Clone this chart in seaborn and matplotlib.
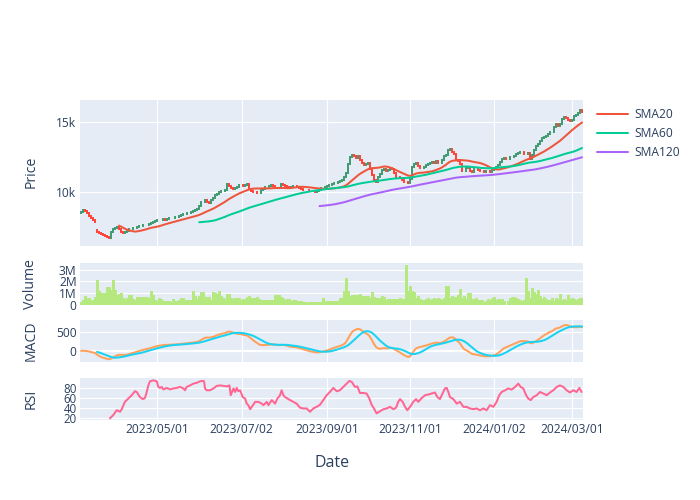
import numpy as np
import pandas as pd
import matplotlib
matplotlib.use("Agg")
import matplotlib.pyplot as plt
import seaborn as sns

# ---------------- data ----------------
close = [
    8550, 8690, 8600, 8450, 8250, 8100, 7980, 7850, 7150, 7050,
    6980, 6910, 6850, 6780, 6720, 7120, 7330, 7400, 7460, 7300,
    7140, 7070, 7100, 7160, 7300, 7350, 7390, 7430, 7470, 7540,
    7580, 7600, 7610, 7640, 7720, 7790, 7860, 7940, 7990, 7960,
    8000, 8030, 8010, 8040, 8090, 8120, 8150, 8190, 8220, 8260,
    8330, 8410, 8440, 8460, 8500, 8560, 8620, 8690, 8760, 8950,
    9250, 9290, 9430, 9260, 9220, 9400, 9560, 9760, 9860, 9950,
    10050, 10080, 10120, 10550, 10400, 10250, 10170, 10250, 10320, 10450,
    10470, 10410, 10480, 10530, 10200, 10080, 10000, 9960, 9920, 9880,
    10100, 10200, 10310, 10340, 10380, 10480, 10420, 10360, 10330, 10350,
    10540, 10490, 10410, 10300, 10250, 10350, 10380, 10410, 10300, 10230,
    10180, 10150, 10120, 10090, 10070, 10070, 10030, 9980, 10080, 10150,
    10240, 10280, 10320, 10380, 10450, 10580, 10620, 10650, 10690, 10760,
    10850, 11050, 11350, 12000, 12450, 12650, 12520, 12380, 12530, 12280,
    12080, 11900, 11950, 12030, 11600, 11200, 10800, 10700, 11050, 11250,
    11550, 11600, 11450, 11520, 11700, 11600, 11300, 11070, 11080, 10950,
    10800, 10720, 10710, 10620, 10900, 11750, 12000, 12070, 11820, 11700,
    11720, 11790, 11880, 11960, 12040, 12140, 12070, 12210, 12050, 12060,
    12250, 12550, 12650, 12950, 13020, 12860, 12700, 12230, 12180, 12000,
    11500, 11450, 11700, 11740, 11500, 11420, 11620, 11630, 11550, 11500,
    11450, 11430, 11460, 11500, 11440, 11550, 11600, 11750, 11920, 12150,
    12300, 12380, 12300, 12300, 12450, 12500, 12580, 12680, 12750, 12860,
    12800, 12720, 12700, 12740, 12300, 12650, 13000, 13250, 13420, 13600,
    13800, 13940, 13980, 14150, 14280, 14290, 14650, 14830, 14700, 14870,
    15200, 15300, 15280, 15150, 15020, 15150, 15380, 15480, 15600, 15850,
    15700,
]
first_open = 8450
gap_days = [8]
gap_opens = [7250]

volume_m = [
    0.23, 0.37, 0.74, 0.57, 0.57, 0.43, 0.43, 0.65, 2.14, 1.17,
    1.03, 1.03, 1.03, 1.50, 1.50, 1.22, 2.14, 1.22, 0.85, 0.94,
    1.03, 0.57, 0.46, 0.57, 0.80, 0.80, 0.51, 0.37, 0.68, 0.63,
    0.63, 0.63, 0.63, 0.63, 0.57, 1.14, 0.80, 0.37, 0.31, 0.57,
    0.51, 0.34, 0.34, 0.34, 0.28, 0.23, 0.51, 0.31, 0.34, 0.37,
    0.57, 0.57, 0.43, 0.43, 0.43, 0.43, 1.20, 0.74, 0.51, 0.74,
    1.08, 1.08, 0.65, 0.65, 0.65, 0.43, 1.08, 1.03, 0.94, 1.14,
    0.74, 0.57, 0.51, 0.94, 0.94, 0.57, 0.46, 0.57, 0.57, 0.57,
    0.43, 0.46, 0.46, 0.65, 0.74, 0.57, 0.57, 0.57, 0.65, 0.51,
    0.37, 0.37, 0.37, 0.37, 0.37, 0.37, 0.37, 0.80, 0.80, 0.80,
    0.65, 0.57, 0.43, 0.46, 0.46, 0.28, 0.37, 0.37, 0.28, 0.28,
    0.28, 0.23, 0.20, 0.17, 0.20, 0.20, 0.20, 0.20, 0.23, 0.23,
    0.23, 0.57, 0.31, 0.31, 0.31, 0.31, 0.31, 0.31, 0.31, 0.57,
    0.60, 1.14, 2.28, 1.14, 0.74, 0.80, 0.80, 0.80, 0.80, 0.88,
    0.74, 0.74, 0.74, 0.74, 0.60, 1.08, 0.65, 0.60, 0.60, 0.60,
    0.71, 0.65, 0.43, 0.51, 0.51, 0.51, 0.51, 0.51, 0.51, 0.60,
    0.51, 0.46, 3.42, 1.14, 1.57, 1.14, 1.08, 0.57, 0.71, 0.46,
    0.37, 0.37, 0.51, 0.57, 0.37, 0.46, 0.57, 0.51, 0.57, 0.46,
    0.43, 0.60, 1.57, 1.57, 0.57, 0.71, 0.65, 0.65, 0.80, 1.31,
    0.57, 0.74, 0.51, 0.97, 0.97, 0.51, 0.51, 0.57, 0.43, 0.37,
    0.37, 0.23, 0.31, 0.51, 0.37, 0.57, 0.65, 0.43, 0.51, 0.51,
    0.51, 0.31, 0.00, 0.31, 0.57, 0.65, 0.65, 0.57, 0.51, 0.43,
    0.31, 0.37, 2.28, 1.14, 0.57, 1.45, 1.08, 0.94, 1.28, 0.74,
    0.51, 0.65, 0.51, 0.43, 0.37, 0.57, 0.31, 0.60, 0.51, 0.88,
    0.43, 0.51, 0.43, 0.85, 0.51, 0.60, 0.51, 0.43, 0.51, 0.60,
    0.60,
]

# RSI readings (trading-day index, value)
rsi_day = [
    14.5, 16.1, 17.8, 19.5, 20.3, 21.9, 23.6, 25.3, 26.9, 27.8,
    29.4, 30.8, 31.9, 32.8, 33.6, 34.4, 36.1, 37.8, 38.6, 39.4,
    40.3, 41.1, 42.8, 44.4, 46.1, 47.7, 49.4, 51.1, 51.9, 52.7,
    54.4, 56.1, 57.7, 59.4, 60.7, 61.4, 61.9, 62.7, 64.4, 66.1,
    67.7, 69.4, 71.1, 72.7, 74.1, 74.7, 76.1, 76.9, 77.7, 78.5,
    79.4, 80.7, 81.9, 82.7, 83.5, 84.4, 85.2, 86.0, 86.9, 88.5,
    90.2, 91.0, 92.7, 93.5, 95.2, 96.0, 96.8, 98.0, 99.3, 100.1,
    101.0, 101.8, 102.6, 104.3, 106.0, 107.6, 109.3, 110.9, 112.6, 114.3,
    115.9, 117.6, 119.3, 120.9, 122.6, 124.2, 125.9, 127.6, 129.2, 130.9,
    132.6, 133.9, 135.1, 136.7, 137.9, 139.2, 140.9, 142.5, 143.9, 145.0,
    146.2, 147.5, 149.2, 150.9, 152.5, 154.2, 155.9, 157.2, 158.3, 159.2,
    160.5, 161.7, 162.8, 164.2, 165.8, 167.2, 168.3, 170.0, 171.7, 173.3,
    175.0, 176.6, 177.8, 179.1, 180.0, 181.6, 182.5, 183.3, 184.1, 185.8,
    187.5, 189.1, 190.8, 192.4, 194.1, 195.8, 197.4, 199.1, 200.8, 202.4,
    204.1, 205.8, 207.4, 208.7, 209.9, 211.6, 213.2, 214.9, 216.6, 218.2,
    219.4, 220.7, 222.1, 223.2, 224.4, 225.7, 227.4, 229.0, 230.7, 232.4,
    234.0, 235.7, 237.4, 239.0, 240.7, 242.3, 244.0, 245.7, 247.3, 248.7,
    249.8,
]
rsi_val = [
    20.0, 26.5, 36.0, 33.0, 38.0, 52.5, 59.0, 65.6, 73.5, 72.0,
    62.0, 58.0, 60.0, 72.0, 85.0, 93.0, 95.0, 93.0, 82.0, 80.0,
    82.0, 77.0, 80.0, 77.0, 79.0, 80.0, 82.0, 79.0, 75.4, 82.0,
    85.0, 88.5, 90.0, 93.0, 94.0, 93.0, 79.0, 75.4, 75.4, 79.0,
    84.0, 85.0, 84.0, 83.0, 85.0, 65.6, 79.0, 72.0, 80.0, 73.5,
    75.4, 62.0, 59.0, 49.0, 46.0, 38.0, 42.7, 47.0, 52.5, 52.5,
    49.0, 46.0, 52.5, 46.0, 56.0, 52.5, 49.0, 59.0, 65.6, 75.4,
    65.6, 62.0, 60.0, 56.0, 52.5, 49.0, 41.0, 39.5, 39.5, 33.0,
    39.5, 42.7, 47.0, 56.0, 65.6, 72.0, 80.0, 73.5, 75.4, 82.0,
    88.5, 93.7, 92.0, 82.0, 83.0, 70.0, 70.0, 69.0, 59.0, 47.0,
    39.5, 29.7, 34.0, 38.0, 39.5, 42.7, 38.0, 41.0, 52.5, 58.0,
    52.5, 42.7, 36.0, 42.7, 52.5, 58.0, 52.5, 60.0, 65.6, 67.0,
    69.0, 71.0, 62.0, 58.0, 65.6, 79.0, 80.0, 72.0, 62.0, 58.0,
    49.0, 52.5, 42.7, 42.7, 39.5, 38.0, 39.5, 36.0, 39.5, 36.0,
    46.0, 42.7, 52.5, 65.6, 72.0, 75.4, 79.0, 76.7, 82.0, 88.5,
    82.0, 79.0, 65.6, 59.0, 56.0, 62.0, 65.6, 72.0, 69.0, 65.6,
    71.0, 75.4, 82.0, 85.0, 82.0, 75.4, 71.0, 75.4, 72.0, 80.0,
    72.0,
]

tick_labels = ["2023/05/01", "2023/07/02", "2023/09/01",
               "2023/11/01", "2024/01/02", "2024/03/01"]
tick_pos = [37.8, 80.2, 122.9, 164.2, 206.2, 244.9]

# ---------------- frame & indicators ----------------
n = len(close)
df = pd.DataFrame({"idx": np.arange(n), "close": close,
                   "volume": np.array(volume_m) * 1e6})
opens = [first_open] + close[:-1]
for d, o in zip(gap_days, gap_opens):
    opens[d] = o
df["open"] = opens
df["sma20"] = df["close"].rolling(20).mean()
df["sma60"] = df["close"].rolling(60).mean()
df["sma120"] = df["close"].rolling(120).mean()
ema12 = df["close"].ewm(span=12).mean()
ema26 = df["close"].ewm(span=26).mean()
df["macd"] = ema12 - ema26
df["signal"] = df["macd"].rolling(9).mean()
rsi_df = pd.DataFrame({"day": rsi_day, "rsi": rsi_val})

# ---------------- style ----------------
sns.set_theme(style="darkgrid")
plt.rcParams["font.family"] = ["Open Sans", "DejaVu Sans"]
TXT = "#2a3f5f"
BG = "#E5ECF6"
plt.rcParams.update({
    "axes.facecolor": BG, "grid.color": "white", "grid.linewidth": 0.8,
    "xtick.color": TXT, "ytick.color": TXT, "text.color": TXT,
    "axes.labelcolor": TXT,
})

W, H = 700, 500
fig = plt.figure(figsize=(7, 5), dpi=100)
fig.patch.set_facecolor("white")

def add_ax(x0, y0, x1, y1):
    return fig.add_axes([x0 / W, 1 - y1 / H, (x1 - x0) / W, (y1 - y0) / H])

ax_p = add_ax(80, 100, 583, 246)
ax_v = add_ax(80, 263, 583, 304.5)
ax_m = add_ax(80, 320, 583, 362)
ax_r = add_ax(80, 378, 583, 420)

xlim = (-0.5, n - 0.5)
for ax in (ax_p, ax_v, ax_m, ax_r):
    ax.set_xlim(*xlim)
    for s in ax.spines.values():
        s.set_visible(False)
    ax.tick_params(axis="both", length=0, labelsize=8.64, pad=2.5, colors=TXT)
    ax.set_xticks(tick_pos)
    ax.set_xticklabels([])
    ax.set_axisbelow(True)

# candles
up = df["close"] >= df["open"]
for mask, col in ((up, "#3D9970"), (~up, "#FF4136")):
    sub = df[mask]
    ax_p.vlines(sub["idx"], sub["open"], sub["close"], colors=col,
                linewidth=1.4, capstyle="projecting", zorder=3)

line_kw = dict(linewidth=1.45, zorder=4)
sns.lineplot(data=df, x="idx", y="sma20", ax=ax_p, color="#EF553B", label="SMA20", **line_kw)
sns.lineplot(data=df, x="idx", y="sma60", ax=ax_p, color="#00CC96", label="SMA60", **line_kw)
sns.lineplot(data=df, x="idx", y="sma120", ax=ax_p, color="#AB63FA", label="SMA120", **line_kw)
ax_p.set_ylim(6120, 16550)
ax_p.set_yticks([10000, 15000])
ax_p.set_yticklabels(["10k", "15k"])
handles, labels = ax_p.get_legend_handles_labels()
ax_p.legend_.remove()
fig.legend(handles, labels, loc="upper left", bbox_to_anchor=(597 / W, 1 - 108 / H),
           frameon=False, fontsize=8.64, handlelength=2.6, handletextpad=0.55,
           labelspacing=0.52, borderaxespad=0, borderpad=0)

# volume
ax_v.vlines(df["idx"], 0, df["volume"], colors="#B6E880",
            linewidth=0.9, antialiased=False, zorder=3)
ax_v.set_ylim(0, 3.59e6)
ax_v.set_yticks([0, 1e6, 2e6, 3e6])
ax_v.set_yticklabels(["0", "1M", "2M", "3M"])
ax_v.grid(axis="x", visible=False)

# macd
sns.lineplot(data=df, x="idx", y="macd", ax=ax_m, color="#FFA15A", legend=False, **line_kw)
sns.lineplot(data=df, x="idx", y="signal", ax=ax_m, color="#19D3F3", legend=False, **line_kw)
ax_m.axhline(0, color="white", linewidth=1.6, zorder=1)
ax_m.set_ylim(-300, 835)
ax_m.set_yticks([0, 500])
ax_m.set_yticklabels(["0", "500"])

# rsi
sns.lineplot(data=rsi_df, x="day", y="rsi", ax=ax_r, color="#FF6692", legend=False, **line_kw)
ax_r.set_ylim(16.7, 99.6)
ax_r.set_yticks([20, 40, 60, 80])
ax_r.set_yticklabels(["20", "40", "60", "80"])
ax_r.tick_params(axis="y", labelsize=8.3)
ax_r.set_xticklabels(tick_labels)

for ax in (ax_p, ax_v, ax_m, ax_r):
    ax.set_xlim(*xlim)
    ax.set_xlabel("")
    ax.set_ylabel("")

# axis titles
for txt, yc in (("Price", 172), ("Volume", 284), ("MACD", 341), ("RSI", 399)):
    fig.text(31 / W, 1 - yc / H, txt, rotation=90, ha="center", va="center",
             fontsize=10.1, color=TXT)
fig.text(332 / W, 1 - 463 / H, "Date", ha="center", va="center", fontsize=11.5, color=TXT)

fig.savefig("out.png", dpi=100, facecolor="white")
